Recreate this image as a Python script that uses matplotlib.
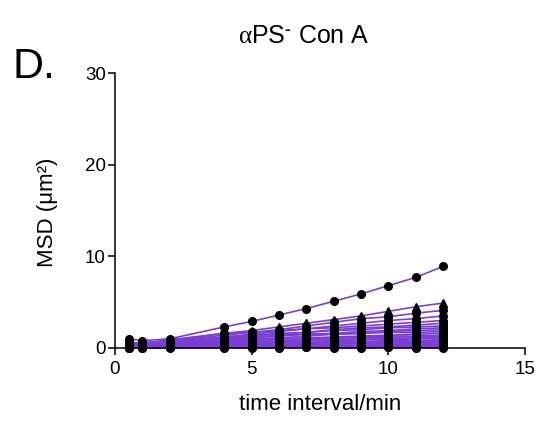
import matplotlib
matplotlib.use("Agg")
import matplotlib.pyplot as plt

plt.rcParams.update({
    'font.family': ['Liberation Sans', 'DejaVu Sans'],
    'mathtext.fontset': 'custom',
    'mathtext.rm': 'Liberation Serif',
    'mathtext.it': 'Liberation Serif',
    'mathtext.bf': 'Liberation Sans:bold',
})

# time points (min)
times = [0.5, 1, 2, 4, 5, 6, 7, 8, 9, 10, 11, 12]

# MSD tracks (um^2), one list per cell
track_01 = [1.0, 0.8, 1.0, 2.3, 2.9, 3.6, 4.3, 5.1, 5.9, 6.8, 7.7, 8.9]
track_02 = [0.6, 0.5, 0.9, 1.6, 1.9, 2.3, 2.7, 3.1, 3.5, 4.0, 4.5, 4.9]
track_03 = [0.5, 0.6, 0.8, 1.4, 1.7, 2.0, 2.4, 2.8, 3.2, 3.4, 3.8, 4.1]
track_04 = [0.4, 0.5, 0.7, 1.2, 1.5, 1.8, 2.1, 2.4, 2.7, 3.0, 3.2, 3.5]
track_05 = [0.6, 0.4, 0.8, 1.6, 1.7, 1.9, 2.1, 2.2, 2.4, 2.6, 2.8, 3.0]
track_06 = [0.3, 0.4, 0.6, 1.0, 1.2, 1.5, 1.7, 2.0, 2.2, 2.3, 2.5, 2.7]
track_07 = [0.5, 0.5, 0.7, 1.2, 1.4, 1.6, 1.7, 1.9, 2.0, 2.2, 2.3, 2.4]
track_08 = [0.4, 0.3, 0.5, 0.9, 1.1, 1.3, 1.5, 1.6, 1.8, 1.9, 2.1, 2.2]
track_09 = [0.3, 0.4, 0.5, 0.8, 1.0, 1.1, 1.3, 1.5, 1.6, 1.8, 1.9, 2.0]
track_10 = [0.5, 0.4, 0.6, 1.1, 1.3, 1.4, 1.5, 1.5, 1.6, 1.7, 1.7, 1.8]
track_11 = [0.2, 0.3, 0.4, 0.7, 0.8, 1.0, 1.1, 1.2, 1.3, 1.4, 1.5, 1.6]
track_12 = [0.3, 0.2, 0.4, 0.6, 0.7, 0.8, 0.9, 1.1, 1.2, 1.3, 1.3, 1.4]
track_13 = [0.4, 0.3, 0.5, 0.8, 0.9, 1.0, 1.0, 1.1, 1.1, 1.2, 1.2, 1.3]
track_14 = [0.2, 0.2, 0.3, 0.5, 0.6, 0.7, 0.8, 0.9, 1.0, 1.0, 1.1, 1.1]
track_15 = [0.3, 0.3, 0.4, 0.6, 0.7, 0.7, 0.8, 0.8, 0.9, 0.9, 1.0, 1.0]
track_16 = [0.2, 0.1, 0.3, 0.4, 0.5, 0.6, 0.6, 0.7, 0.7, 0.8, 0.8, 0.9]
track_17 = [0.1, 0.2, 0.2, 0.4, 0.4, 0.5, 0.5, 0.6, 0.6, 0.7, 0.7, 0.8]
track_18 = [0.3, 0.2, 0.3, 0.5, 0.5, 0.5, 0.6, 0.6, 0.6, 0.6, 0.7, 0.7]
track_19 = [0.1, 0.1, 0.2, 0.3, 0.3, 0.4, 0.4, 0.5, 0.5, 0.5, 0.6, 0.6]
track_20 = [0.2, 0.2, 0.2, 0.3, 0.4, 0.4, 0.4, 0.4, 0.5, 0.5, 0.5, 0.5]
track_21 = [0.1, 0.1, 0.1, 0.2, 0.2, 0.3, 0.3, 0.3, 0.3, 0.4, 0.4, 0.4]
track_22 = [0.1, 0.1, 0.1, 0.2, 0.2, 0.2, 0.2, 0.3, 0.3, 0.3, 0.3, 0.3]
track_23 = [0.0, 0.1, 0.1, 0.1, 0.1, 0.2, 0.2, 0.2, 0.2, 0.2, 0.2, 0.2]
track_24 = [0.0, 0.0, 0.1, 0.1, 0.1, 0.1, 0.1, 0.1, 0.1, 0.1, 0.1, 0.1]
track_25 = [0.0, 0.0, 0.0, 0.0, 0.0, 0.0, 0.1, 0.0, 0.0, 0.1, 0.0, 0.0]

tracks = [track_01, track_02, track_03, track_04, track_05, track_06, track_07,
          track_08, track_09, track_10, track_11, track_12, track_13, track_14,
          track_15, track_16, track_17, track_18, track_19, track_20, track_21,
          track_22, track_23, track_24, track_25]
markers = ['o', '^'] + ['o'] * (len(tracks) - 2)

x_ticks = [0, 5, 10, 15]
y_ticks = [0, 10, 20, 30]

line_color = '#7b3fd6'

fig = plt.figure(figsize=(5.52, 4.21), dpi=100)
ax = fig.add_axes([115 / 552, 1 - 348 / 421, 410 / 552, 275 / 421])

for ys, mk in zip(tracks, markers):
    ax.plot(times, ys, color=line_color, linewidth=1.2, zorder=2, clip_on=False)
    ax.plot(times, ys, linestyle='none', marker=mk, markersize=5.5,
            markerfacecolor='black', markeredgecolor='black', zorder=3,
            clip_on=False)

ax.set_xlim(0, 15)
ax.set_ylim(0, 30)
ax.set_xticks(x_ticks)
ax.set_yticks(y_ticks)
ax.tick_params(direction='out', length=5, width=1.1, labelsize=13.5,
               colors='black')
ax.tick_params(axis='x', pad=4)
ax.tick_params(axis='y', pad=1.5)
for side in ['top', 'right']:
    ax.spines[side].set_visible(False)
for side in ['left', 'bottom']:
    ax.spines[side].set_linewidth(1.1)

ax.set_xlabel('time interval/min', fontsize=16)
ax.set_ylabel('MSD (μm²)', fontsize=16)
ax.xaxis.set_label_coords(0.5, (348 - 405) / 275)
ax.yaxis.set_label_coords((47 - 115) / 410, 0.4945)
ax.xaxis.label.set_va('center')
ax.yaxis.label.set_va('center')

fig.text(304 / 552, 1 - 36 / 421, '$\\mathrm{\\alpha}$PS$^{\\mathbf{\u2010}}$ Con A',
         fontsize=18, ha='center', va='center')
fig.text(13 / 552, 1 - 78 / 421, 'D.', fontsize=31, ha='left', va='baseline')

fig.savefig('out.png', dpi=100, facecolor='white')
